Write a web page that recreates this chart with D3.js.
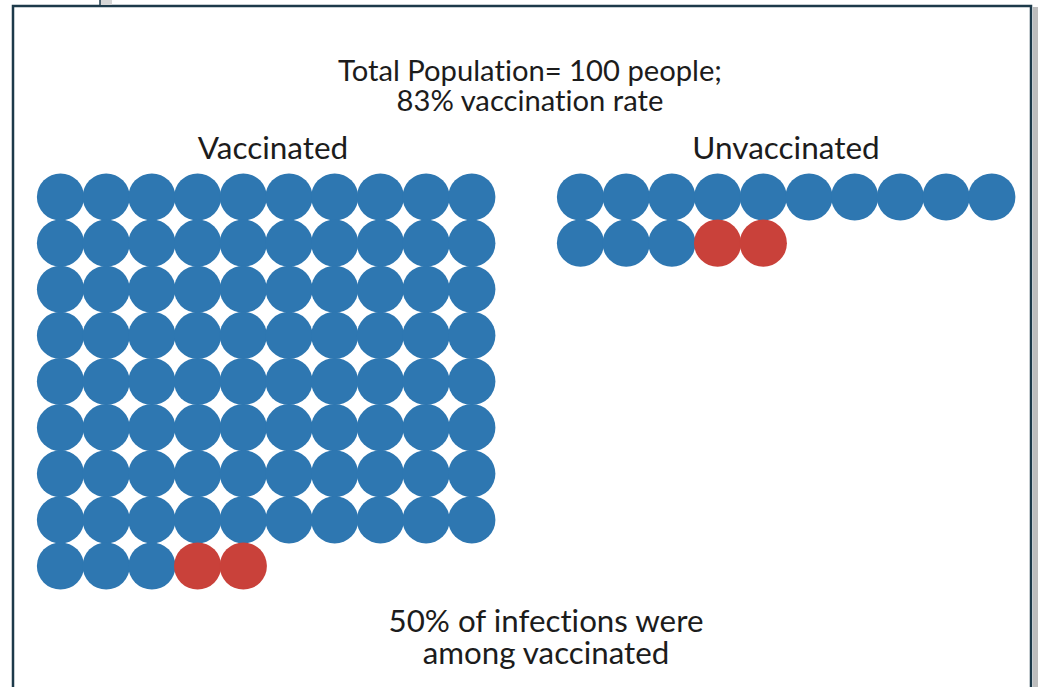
<!DOCTYPE html>
<html>
<head>
<meta charset="utf-8">
<script src="https://cdn.jsdelivr.net/npm/d3@7"></script>
<style>
  html, body { margin: 0; padding: 0; background: #ffffff; }
  svg { display: block; }
  text { font-family: Lato, "Open Sans", sans-serif; fill: #1c1c1c; font-variant-ligatures: none; }
</style>
</head>
<body>
<svg id="chart" width="1038" height="687"></svg>
<script>
// ---- data ----
const titleLines = ["Total Population= 100 people;", "83% vaccination rate"];
const groups = ["Vaccinated", "Unvaccinated"];
const healthyCounts = [83, 13];   // blue dots
const infectedCounts = [2, 2];    // red dots
const footnoteLines = ["50% of infections were", "among vaccinated"];
const columnsPerRow = 10;

// ---- layout ----
const svg = d3.select("#chart");
const W = 1038, H = 687;

// frame
svg.append("rect").attr("x", 1033).attr("y", 7).attr("width", 5).attr("height", H)
  .attr("fill", "#bdbdbd");
svg.append("rect").attr("x", 13).attr("y", 6).attr("width", 1018).attr("height", H + 10)
  .attr("fill", "#ffffff").attr("stroke", "#1d3a4a").attr("stroke-width", 2.5);
svg.append("rect").attr("x", 100).attr("y", 0).attr("width", 12).attr("height", 5)
  .attr("fill", "#d6d6d6");
svg.append("line").attr("x1", 100).attr("x2", 100).attr("y1", 0).attr("y2", 5)
  .attr("stroke", "#1d3a4a").attr("stroke-width", 1.5);

// titles
svg.selectAll("text.title").data(titleLines).join("text")
  .attr("class", "title")
  .attr("x", 530).attr("y", (d, i) => 81 + i * 30)
  .attr("text-anchor", "middle").attr("font-size", 29.2)
  .text(d => d);

// group scales
const groupX = d3.scaleOrdinal().domain(groups).range([60.5, 580.5]);
const groupLabelX = d3.scaleOrdinal().domain(groups).range([273, 786]);
const colX = d3.scaleLinear().domain([0, columnsPerRow - 1]).range([0, 9 * 45.7]);
const rowY = d3.scaleLinear().domain([0, 8]).range([197, 566]);
const color = d3.scaleOrdinal().domain(["healthy", "infected"]).range(["#2e77b1", "#c9413a"]);

svg.selectAll("text.group").data(groups).join("text")
  .attr("class", "group")
  .attr("x", d => groupLabelX(d)).attr("y", 159)
  .attr("text-anchor", "middle").attr("font-size", 31.5)
  .text(d => d);

// build dot data from counts
const dots = [];
groups.forEach((g, gi) => {
  const total = healthyCounts[gi] + infectedCounts[gi];
  for (let k = 0; k < total; k++) {
    dots.push({
      group: g,
      col: k % columnsPerRow,
      row: Math.floor(k / columnsPerRow),
      status: k < healthyCounts[gi] ? "healthy" : "infected"
    });
  }
});

svg.append("g").selectAll("circle").data(dots).join("circle")
  .attr("cx", d => groupX(d.group) + colX(d.col))
  .attr("cy", d => rowY(d.row))
  .attr("r", 23.6)
  .attr("fill", d => color(d.status));

svg.selectAll("text.foot").data(footnoteLines).join("text")
  .attr("class", "foot")
  .attr("x", 546).attr("y", (d, i) => 632 + i * 32)
  .attr("text-anchor", "middle").attr("font-size", 31.3)
  .text(d => d);
</script>
</body>
</html>
